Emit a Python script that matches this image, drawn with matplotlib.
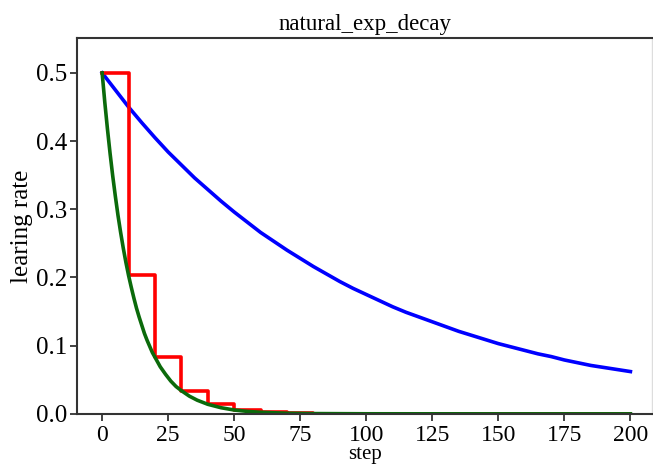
import matplotlib
matplotlib.use("Agg")
import matplotlib.pyplot as plt

plt.rcParams["font.family"] = ["Liberation Serif", "DejaVu Serif"]

# blue: smooth slow decay, read every 5 steps
blue_steps = [0, 5, 10, 15, 20, 25, 30, 35, 40, 45, 50, 55, 60, 65, 70, 75, 80, 85, 90, 95, 100,
              105, 110, 115, 120, 125, 130, 135, 140, 145, 150, 155, 160, 165, 170, 175, 180,
              185, 190, 195, 200]
blue_lr = [0.500, 0.475, 0.450, 0.427, 0.405, 0.384, 0.365, 0.346, 0.329, 0.312, 0.296,
           0.281, 0.266, 0.253, 0.240, 0.228, 0.216, 0.205, 0.194, 0.184, 0.175,
           0.166, 0.157, 0.149, 0.142, 0.135, 0.128, 0.121, 0.115, 0.109, 0.103,
           0.098, 0.093, 0.088, 0.084, 0.079, 0.075, 0.071, 0.068, 0.065, 0.062]

# red: staircase, one level per 10 steps
red_steps = [0, 10, 20, 30, 40, 50, 60, 70, 80, 90, 100,
             110, 120, 130, 140, 150, 160, 170, 180, 190, 200]
red_lr = [0.500, 0.203, 0.083, 0.034, 0.014, 0.0056, 0.0023, 0.0009, 0.0004, 0.0002, 0.0001,
          0.0, 0.0, 0.0, 0.0, 0.0, 0.0, 0.0, 0.0, 0.0, 0.0]

# green: smooth fast decay
green_steps = [0, 1, 2, 3, 4, 5, 6, 7, 8, 9, 10, 11, 12, 13, 14, 15, 16, 17, 18, 19, 20,
               22, 24, 26, 28, 30, 33, 36, 40, 45, 50, 55, 60, 70, 80, 100, 150, 200]
green_lr = [0.500, 0.457, 0.418, 0.382, 0.349, 0.319, 0.291, 0.266, 0.243, 0.222, 0.203,
            0.186, 0.170, 0.155, 0.142, 0.130, 0.118, 0.108, 0.099, 0.090, 0.083,
            0.069, 0.058, 0.048, 0.040, 0.034, 0.026, 0.020, 0.014, 0.009, 0.0056,
            0.0036, 0.0023, 0.0009, 0.0004, 0.0001, 0.0, 0.0]

xticks = [0, 25, 50, 75, 100, 125, 150, 175, 200]
yticks = [0.0, 0.1, 0.2, 0.3, 0.4, 0.5]


def main():
    fig = plt.figure(figsize=(6.53, 4.65), dpi=100)
    ax = fig.add_axes([0.118, 0.110, 0.881, 0.808])

    ax.plot(blue_steps, blue_lr, color="blue", linewidth=2.6)
    ax.plot(red_steps, red_lr, color="red", linewidth=2.6, drawstyle="steps-post")
    ax.plot(green_steps, green_lr, color="#0b6a0b", linewidth=2.6)

    ax.set_xlim(-9.5, 208.3)
    ax.set_ylim(0, 0.551)
    ax.set_xticks(xticks)
    ax.set_yticks(yticks)
    ax.tick_params(labelsize=18, length=5, width=1.3, color="#333333")
    ax.tick_params(axis="x", labelsize=17, pad=3)
    ax.tick_params(axis="y", pad=2)

    for side in ["left", "bottom", "top"]:
        ax.spines[side].set_color("#333333")
        ax.spines[side].set_linewidth(1.5)
    ax.spines["right"].set_color("#dddddd")
    ax.spines["right"].set_linewidth(1.0)

    ax.set_title("natural_exp_decay", fontsize=16.5, pad=6)
    ax.set_xlabel("step", fontsize=15, labelpad=-1)
    ax.set_ylabel("learing rate", fontsize=18, labelpad=2)

    fig.savefig("out.png", dpi=100)


if __name__ == "__main__":
    main()
